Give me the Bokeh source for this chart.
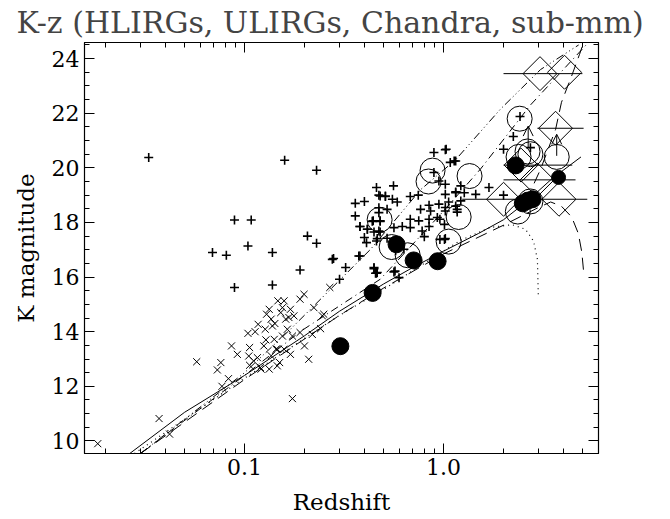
import numpy as np
from bokeh.plotting import figure
from bokeh.models import (Range1d, FixedTicker, LogAxis, LinearAxis, PrintfTickFormatter,
                          SingleIntervalTicker, Arrow, OpenHead, ColumnDataSource)
from bokeh.embed import file_html
from bokeh.resources import INLINE

FONT = "DejaVu Serif"

# ---------------- data ----------------
# ULIRGs (x symbols)
ulirg_z = [0.0183, 0.0372, 0.042, 0.0575, 0.073, 0.076, 0.077, 0.083, 0.086, 0.092, 0.104, 0.106, 0.105,
           0.106, 0.111, 0.116, 0.117, 0.12, 0.125, 0.127, 0.129, 0.133, 0.136, 0.138, 0.141, 0.144, 0.147,
           0.150, 0.152, 0.155, 0.155, 0.158, 0.161, 0.164, 0.167, 0.170, 0.174, 0.177, 0.133, 0.121, 0.146,
           0.136, 0.146, 0.158, 0.17, 0.19, 0.199, 0.19, 0.2, 0.21, 0.223, 0.174, 0.241, 0.25, 0.268, 0.246,
           0.219, 0.113, 0.128, 0.142]
ulirg_k = [9.9, 10.82, 10.25, 12.9, 12.6, 12.87, 12.0, 12.28, 13.48, 13.17, 13.94, 13.42, 13.11,
           12.77, 12.93, 13.05, 14.27, 12.69, 13.48, 14.09, 14.64, 14.82, 14.46, 14.21, 13.72, 13.36, 15.13,
           12.87, 14.70, 13.84, 14.88, 15.13, 14.46, 14.09, 14.52, 14.82, 13.84, 14.58, 12.63, 12.63, 12.75,
           13.12, 13.36, 13.36, 13.17, 15.19, 15.37, 13.97, 13.48, 12.99, 14.88, 11.55, 14.11, 14.64, 15.62, 14.58,
           13.9, 14.0, 13.7, 14.3]

# Chandra sources (+ symbols)
chandra_z = [0.033, 0.159, 0.23, 0.089, 0.108, 0.104, 0.207, 0.23, 0.46, 0.473, 0.51, 0.36, 0.40, 0.36,
             0.38, 0.414, 0.438, 0.48, 0.473, 0.473, 0.52, 0.41, 0.46, 0.473, 0.069, 0.081, 0.138, 0.089,
             0.138, 0.19, 0.276, 0.322, 0.30, 0.375, 0.447, 0.46, 0.894, 1.02, 1.15, 0.56, 0.48, 0.51, 0.553,
             0.585, 0.68, 0.746, 0.894, 0.947, 1.02, 1.02, 1.15, 0.845, 0.947, 1.02, 1.06, 1.17, 0.86, 0.93,
             0.845, 0.958, 0.766, 0.75, 0.68, 0.68, 0.62, 0.845, 0.78, 0.80, 0.563, 0.443, 0.48, 0.38, 0.414,
             0.447, 0.48, 0.40, 0.464, 0.52, 0.574, 0.632, 0.958, 1.02, 0.38, 0.28, 0.447, 0.464, 0.563, 0.597,
             2.42, 2.24, 2.0, 1.03, 2.73, 1.13, 1.08, 1.69, 2.0, 1.45, 1.27, 1.15, 1.22, 1.22, 1.15, 1.02,
             1.17, 1.01, 1.01, 0.455, 0.57]
chandra_k = [20.38, 20.28, 19.91, 18.09, 18.09, 17.14, 17.5, 17.24, 19.28, 19.0, 18.97, 18.7, 18.77, 18.24,
             17.85, 17.75, 18.04, 18.04, 18.54, 18.36, 18.48, 17.26, 17.32, 17.69, 16.9, 16.8, 16.9, 15.62,
             15.71, 16.26, 16.65, 16.35, 15.92, 16.77, 16.31, 16.14, 20.56, 20.66, 20.25, 19.34, 18.97, 18.95,
             18.85, 18.75, 18.95, 19.0, 19.83, 19.52, 19.4, 19.03, 19.12, 18.63, 18.67, 18.55, 18.75, 18.48,
             18.42, 18.18, 18.12, 18.12, 18.48, 18.06, 18.12, 17.81, 17.85, 17.85, 17.69, 17.48, 17.81, 18.06,
             18.06, 17.85, 17.75, 17.65, 17.65, 17.45, 17.41, 17.42, 16.96, 17.02, 17.38, 17.41, 16.77, 16.68,
             16.35, 16.17, 16.19, 15.98, 21.88, 21.15, 20.68, 20.68, 20.74, 20.25, 20.2, 19.28, 19.0, 19.03,
             19.09, 19.09, 19.34, 18.79, 18.6, 18.42, 18.38, 17.93, 17.38, 16.14, 16.22]

# sub-mm sources (open circles)
submm_z = [0.477, 0.548, 0.66, 0.84, 0.88, 1.06, 1.19, 1.35, 2.41, 2.38, 2.64, 2.73, 3.7, 2.36, 2.73]
submm_k = [18.1, 17.1, 16.8, 19.5, 19.9, 17.3, 18.2, 19.7, 21.8, 20.4, 20.6, 20.5, 20.4, 18.4, 18.77]

# HLIRGs (filled circles)
hlirg_z = [0.303, 0.44, 0.58, 0.707, 0.933, 2.30, 2.5, 2.65, 2.8]
hlirg_k = [13.47, 15.42, 17.2, 16.61, 16.58, 20.09, 18.7, 18.8, 18.85]
hlirg_small_z = [3.78]
hlirg_small_k = [19.65]

# photometric-redshift sources (diamonds) with redshift ranges
diam_z = [3.05, 4.05, 3.65, 2.45, 2.95, 2.0, 3.8]
diam_k = [23.45, 23.5, 21.45, 20.1, 19.56, 18.85, 18.85]
diam_zlo = [2.0, 4.05, 2.96, 2.0, 2.0, 1.24, 2.6]
diam_zhi = [4.98, 4.05, 5.05, 4.43, 4.6, 3.0, 5.27]

# lower limits (arrows)
lim_z = [2.66, 3.70]
lim_k0 = [20.74, 20.44]
lim_k1 = [21.53, 21.23]

# model tracks
solid_z = [0.0265, 0.05, 0.1, 0.2, 0.3, 0.5, 0.7, 1.0, 1.5, 2.0, 2.6, 3.5, 4.9]
solid_k = [9.54, 11.05, 12.4, 13.85, 14.75, 15.75, 16.35, 16.95, 17.6, 18.1, 18.75, 19.6, 20.4]
dot_z = [0.028, 0.1, 0.3, 0.5, 0.97, 1.22, 1.72, 2.21, 2.58, 2.83, 2.96, 2.99]
dot_k = [9.54, 12.3, 14.6, 15.55, 16.9, 17.35, 17.82, 17.92, 17.75, 17.32, 16.65, 15.35]
ldash_z = [0.03, 0.1, 0.3, 0.5, 1.0, 2.0, 3.0, 3.45, 3.9, 4.4, 4.75, 4.95, 5.05]
ldash_k = [9.54, 12.25, 14.6, 15.6, 16.85, 17.9, 18.55, 18.75, 18.6, 18.2, 17.6, 16.9, 16.2]
steep_z = [2.6, 3.07, 3.65, 3.91, 4.39, 4.82, 5.05]
steep_k = [18.8, 19.95, 21.4, 22.4, 23.35, 24.16, 24.59]
dashdot_z = [0.03, 0.1, 0.19, 0.48, 0.966, 1.53, 2.73, 5.2]
dashdot_k = [9.54, 12.4, 14.0, 15.92, 18.3, 19.95, 22.3, 24.5]
dash3dot_z = [0.03, 0.1, 0.17, 0.43, 0.766, 1.15, 1.93, 3.07, 4.77]
dash3dot_k = [9.54, 12.5, 14.09, 17.02, 19.2, 20.3, 22.15, 23.6, 24.5]

x_major = [0.1, 1.0]
x_minor = [0.02, 0.03, 0.04, 0.05, 0.06, 0.07, 0.08, 0.09, 0.2, 0.3, 0.4, 0.5, 0.6, 0.7, 0.8, 0.9,
           2.0, 3.0, 4.0, 5.0]

# ---------------- figure ----------------
p = figure(x_axis_type="log", x_range=Range1d(0.0157, 6.0), y_range=Range1d(9.54, 24.59),
           frame_width=514, frame_height=411, min_border_left=84, min_border_right=56,
           min_border_top=35, min_border_bottom=57,
           output_backend="svg", toolbar_location=None,
           title="K-z (HLIRGs, ULIRGs, Chandra, sub-mm)")
p.title.text_font = FONT
p.title.text_font_size = "30px"
p.title.text_font_style = "normal"
p.title.align = "left"
p.title.offset = -68
p.title.standoff = 5
p.grid.visible = False
p.outline_line_color = "black"
p.outline_line_width = 1.2

xt = FixedTicker(ticks=x_major, minor_ticks=x_minor)
yt = SingleIntervalTicker(interval=2, num_minor_ticks=4)

def style_axis(ax, labels=True):
    ax.major_tick_in = 10
    ax.major_tick_out = 0
    ax.minor_tick_in = 5
    ax.minor_tick_out = 0
    ax.axis_line_color = "black"
    ax.major_tick_line_color = "black"
    ax.minor_tick_line_color = "black"
    ax.major_label_text_font = FONT
    ax.major_label_text_font_size = "22px" if labels else "1px"
    ax.major_label_text_color = "black"
    ax.axis_label_text_font = FONT
    ax.axis_label_text_font_size = "23px"
    ax.axis_label_text_font_style = "normal"
    ax.axis_label_text_color = "black"
    if not labels:
        ax.major_label_text_alpha = 0
        ax.major_label_standoff = 0

p.xaxis.ticker = xt
p.xaxis.formatter = PrintfTickFormatter(format="%.1f")
p.yaxis.ticker = yt
p.xaxis.axis_label = "Redshift"
p.yaxis.axis_label = "K magnitude"
style_axis(p.xaxis[0])
style_axis(p.yaxis[0])
p.xaxis.axis_label_standoff = 11
p.yaxis.axis_label_standoff = 10
p.xaxis.major_label_standoff = 5

top = LogAxis(ticker=FixedTicker(ticks=x_major, minor_ticks=x_minor))
style_axis(top, labels=False)
p.add_layout(top, "above")
right = LinearAxis(ticker=SingleIntervalTicker(interval=2, num_minor_ticks=4))
style_axis(right, labels=False)
p.add_layout(right, "right")

# tracks
p.line(solid_z, solid_k, line_color="black", line_width=1)
p.line(dot_z, dot_k, line_color="black", line_width=1.2, line_dash="1 4")
p.line(ldash_z, ldash_k, line_color="black", line_width=1, line_dash="12 7")
p.line(steep_z, steep_k, line_color="black", line_width=1, line_dash="12 7")
p.line(dashdot_z, dashdot_k, line_color="black", line_width=1, line_dash="8 4 1 4")
p.line(dash3dot_z, dash3dot_k, line_color="black", line_width=1, line_dash="8 3 1 3 1 3 1 3")

# symbols
p.scatter(ulirg_z, ulirg_k, marker="x", size=10, line_color="black", line_width=1)
p.scatter(chandra_z, chandra_k, marker="cross", size=9, line_color="black", line_width=1.6)
p.scatter(submm_z, submm_k, marker="circle", size=25, fill_color=None, line_color="black", line_width=1)
p.scatter(hlirg_z, hlirg_k, marker="circle", size=17, fill_color="black", line_color="black")
p.scatter(hlirg_small_z, hlirg_small_k, marker="circle", size=14, fill_color="black", line_color="black")
p.segment(diam_zlo, diam_k, diam_zhi, diam_k, line_color="black", line_width=1)
p.scatter(diam_z, diam_k, marker="square", angle=np.pi / 4, size=24, fill_color=None,
          line_color="black", line_width=1)

src = ColumnDataSource(dict(x=lim_z, y0=lim_k0, y1=lim_k1))
p.add_layout(Arrow(end=OpenHead(size=10, line_width=1, line_color="black"), source=src,
                   x_start="x", y_start="y0", x_end="x", y_end="y1", line_width=1, line_color="black"))

open("out.html", "w").write(file_html(p, INLINE))
